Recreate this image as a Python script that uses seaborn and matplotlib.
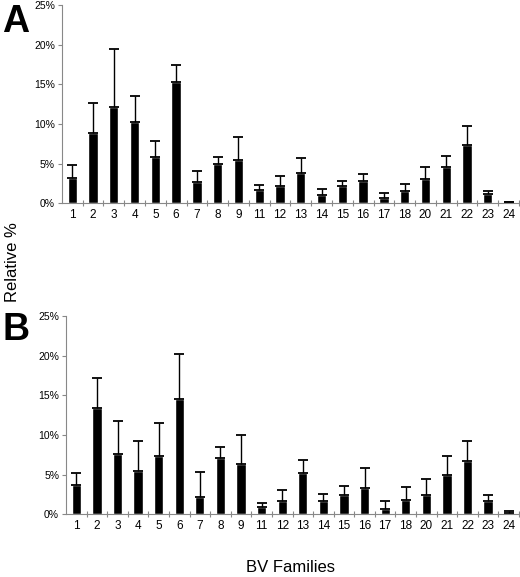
import numpy as np
import pandas as pd
import seaborn as sns
import matplotlib.pyplot as plt

families = ["1", "2", "3", "4", "5", "6", "7", "8", "9", "11", "12", "13",
            "14", "15", "16", "17", "18", "20", "21", "22", "23", "24"]

# panel A: mean and mean+error (upper end of bar)
a_mean = [3.2, 8.9, 12.2, 10.3, 5.8, 15.3, 2.7, 4.9, 5.5, 1.7, 2.1, 3.8,
          1.05, 2.15, 2.8, 0.7, 1.55, 3.1, 4.6, 7.3, 1.1, 0.15]
a_top = [4.8, 12.6, 19.5, 13.5, 7.9, 17.4, 4.0, 5.8, 8.4, 2.3, 3.4, 5.7,
         1.8, 2.8, 3.7, 1.3, 2.4, 4.6, 5.9, 9.75, 1.5, 0.15]

# panel B
b_mean = [3.7, 13.4, 7.6, 5.5, 7.4, 14.5, 2.2, 7.1, 6.3, 0.95, 1.6, 5.2,
          1.7, 2.4, 3.3, 0.65, 1.75, 2.4, 5.0, 6.7, 1.7, 0.2]
b_top = [5.25, 17.2, 11.7, 9.2, 11.5, 20.2, 5.3, 8.5, 10.0, 1.4, 3.0, 6.8,
         2.6, 3.6, 5.8, 1.7, 3.4, 4.4, 7.35, 9.2, 2.4, 0.45]

yticks = [0, 5, 10, 15, 20, 25]
ytick_labels = ["0%", "5%", "10%", "15%", "20%", "25%"]

sns.set_style("white")
plt.rcParams['font.family'] = ['Liberation Sans', 'DejaVu Sans']
plt.rcParams['text.color'] = 'black'
plt.rcParams['xtick.labelcolor'] = 'black'
plt.rcParams['ytick.labelcolor'] = 'black'

fig = plt.figure(figsize=(5.2, 5.77), dpi=100)
ax_a = fig.add_axes([0.119, 0.648, 0.879, 0.343])
ax_b = fig.add_axes([0.127, 0.109, 0.871, 0.343])


def draw_panel(ax, mean, top):
    df = pd.DataFrame({"family": families, "value": mean})
    sns.barplot(data=df, x="family", y="value", color="black", width=0.45,
                errorbar=None, ax=ax, order=families)
    upper = np.array(top) - np.array(mean)
    ax.errorbar(np.arange(len(families)), mean,
                yerr=[np.zeros(len(families)), upper], fmt="none",
                ecolor="black", elinewidth=1.0, capsize=3.5, capthick=1.3)
    ax.set_xlim(-0.5, len(families) - 0.5)
    ax.set_ylim(0, 25)
    ax.set_yticks(yticks)
    ax.set_yticklabels(ytick_labels, fontsize=7.5)
    ax.set_xlabel("")
    ax.set_ylabel("")
    for s in ["top", "right"]:
        ax.spines[s].set_visible(False)
    for s in ["left", "bottom"]:
        ax.spines[s].set_color("#888888")
        ax.spines[s].set_linewidth(0.8)
    ax.tick_params(axis="y", which="major", direction="out", length=3,
                   width=0.8, color="#888888", left=True, pad=2)
    ax.tick_params(axis="x", which="major", length=0, labelsize=8.5, pad=4)
    ax.set_xticks(np.arange(len(families)) + 0.5, minor=True)
    ax.tick_params(axis="x", which="minor", direction="inout", length=5,
                   width=0.8, color="#888888", bottom=True)


draw_panel(ax_a, a_mean, a_top)
draw_panel(ax_b, b_mean, b_top)

fig.text(0.004, 0.945, "A", fontsize=27, fontweight="bold", va="baseline", ha="left")
fig.text(0.004, 0.411, "B", fontsize=27, fontweight="bold", va="baseline", ha="left")
fig.text(0.025, 0.546, "Relative %", fontsize=12, rotation=90, va="center", ha="center")
fig.text(0.558, 0.016, "BV Families", fontsize=12, va="center", ha="center")

fig.savefig("out.png", dpi=100)
